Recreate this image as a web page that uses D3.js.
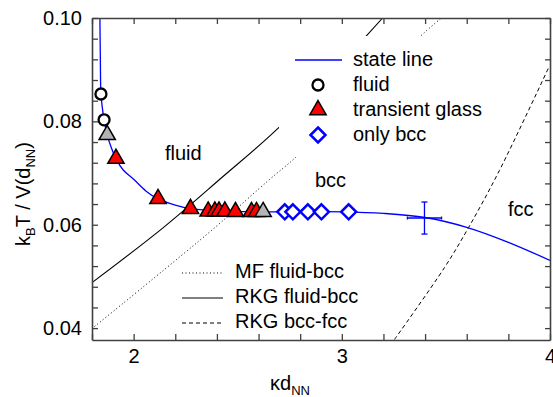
<!DOCTYPE html>
<html>
<head>
<meta charset="utf-8">
<script src="https://cdn.jsdelivr.net/npm/d3@7"></script>
<style>
body { margin: 0; background: #fff; }
text { font-family: "Liberation Sans", Arial, sans-serif; fill: #000; }
</style>
</head>
<body>
<script>
var width = 553, height = 397;

// state line (blue)
var stateK = [1.838, 1.840, 1.843, 1.850, 1.858, 1.873, 1.892, 1.915, 1.95, 2.0, 2.06, 2.117, 2.2, 2.273, 2.4, 2.6, 2.8, 3.0, 3.2, 3.4, 3.6, 3.8, 4.0];
var stateV = [0.100, 0.0925, 0.0853, 0.0825, 0.0803, 0.0774, 0.0750, 0.0728, 0.0706, 0.0688, 0.0665, 0.0650, 0.0638, 0.0631, 0.0627, 0.0625, 0.0625, 0.0625, 0.0622, 0.0614, 0.0595, 0.0566, 0.0531];

// measured points
var fluidK = [1.843, 1.858];
var fluidV = [0.0853, 0.0803];
var glassK = [1.915, 2.117, 2.273, 2.358, 2.39, 2.41, 2.438, 2.489, 2.566, 2.59];
var glassV = [0.0728, 0.0650, 0.0631, 0.0626, 0.0626, 0.0626, 0.0626, 0.0625, 0.0625, 0.0625];
var greyK = [1.873, 2.622];
var greyV = [0.0774, 0.0625];
var bccK = [2.726, 2.765, 2.837, 2.902, 3.033];
var bccV = [0.0625, 0.0625, 0.0625, 0.0625, 0.0625];

// error bar
var errK = 3.397, errV = 0.0613, errDK = 0.082, errDV = 0.0031;

// phase boundaries
var mfK = [1.8, 2.380, 2.654, 2.783, 3.397, 3.479];
var mfV = [0.0399, 0.0591, 0.0688, 0.0732, 0.0972, 0.100];
var rkgFbK = [1.8, 2.141, 2.414, 2.702, 3.119, 3.196];
var rkgFbV = [0.0488, 0.0594, 0.0688, 0.0790, 0.0966, 0.100];
var rkgBfK = [3.253, 3.493, 3.608, 3.757, 3.997];
var rkgBfV = [0.0378, 0.0517, 0.0594, 0.0705, 0.0907];

// ticks
var xTicks = d3.range(1.8, 4.001, 0.2);
var xLabels = [2, 3, 4];
var yTicks = d3.range(0.04, 0.1001, 0.004);
var yLabels = [0.04, 0.06, 0.08, 0.10];

var x = d3.scaleLinear().domain([1.8, 4]).range([92, 550]);
var y = d3.scaleLinear().domain([0.0377, 0.1]).range([340, 18]);

var svg = d3.select("body")
.append("svg")
.attr("width", width)
.attr("height", height);

svg.append("defs").append("clipPath")
	.attr("id", "plotClip")
	.append("rect")
		.attr("x", 92).attr("y", 18)
		.attr("width", 458).attr("height", 322);

function pts(ks, vs){
    return ks.map(function(k, i){ return [k, vs[i]]; });
}

var line = d3.line()
.x(function(d){ return x(d[0]); })
.y(function(d){ return y(d[1]); })
.curve(d3.curveCatmullRom.alpha(0.5));

var plot = svg.append("g").attr("clip-path", "url(#plotClip)");

plot.append("path").datum(pts(mfK, mfV))
.attr("d", line).attr("fill", "none")
.attr("stroke", "#000").attr("stroke-width", 1)
.attr("stroke-dasharray", "1,2.5");

plot.append("path").datum(pts(rkgFbK, rkgFbV))
.attr("d", line).attr("fill", "none")
.attr("stroke", "#000").attr("stroke-width", 1.1);

plot.append("path").datum(pts(rkgBfK, rkgBfV))
.attr("d", line).attr("fill", "none")
.attr("stroke", "#000").attr("stroke-width", 1)
.attr("stroke-dasharray", "4,3");

// legend background hides the boundaries
svg.append("rect")
.attr("x", 279).attr("y", 36).attr("width", 216).attr("height", 121)
.attr("fill", "#fff");

plot.append("path").datum(pts(stateK, stateV))
.attr("d", line).attr("fill", "none")
.attr("stroke", "#0000ff").attr("stroke-width", 1.3);

// error bar
var eb = svg.append("g").attr("stroke", "#0000ff").attr("stroke-width", 1.3);
eb.append("line")
.attr("x1", x(errK)).attr("x2", x(errK))
.attr("y1", y(errV - errDV)).attr("y2", y(errV + errDV));
eb.append("line")
.attr("x1", x(errK - errDK)).attr("x2", x(errK + errDK))
.attr("y1", y(errV)).attr("y2", y(errV));
[errV - errDV, errV + errDV].forEach(function(v){
    eb.append("line").attr("x1", x(errK) - 3).attr("x2", x(errK) + 3)
    .attr("y1", y(v)).attr("y2", y(v));
});
[errK - errDK, errK + errDK].forEach(function(k){
    eb.append("line").attr("x1", x(k)).attr("x2", x(k))
    .attr("y1", y(errV) - 1.5).attr("y2", y(errV) + 1.5);
});

var tri = d3.symbol().type(d3.symbolTriangle).size(115);
var diamond = "M0,-7.5L7.5,0L0,7.5L-7.5,0Z";

svg.selectAll(".fluidPt")
.data(pts(fluidK, fluidV))
.enter().append("circle")
.attr("class", "fluidPt")
.attr("cx", function(d){ return x(d[0]); })
.attr("cy", function(d){ return y(d[1]); })
.attr("r", 5.5)
.attr("fill", "#fff").attr("stroke", "#000").attr("stroke-width", 2.3);

svg.selectAll(".bccPt")
.data(pts(bccK, bccV))
.enter().append("path")
.attr("class", "bccPt")
.attr("transform", function(d){ return "translate(" + x(d[0]) + "," + y(d[1]) + ")"; })
.attr("d", diamond)
.attr("fill", "#fff").attr("stroke", "#0000ff").attr("stroke-width", 2.5);

svg.selectAll(".glassPt")
.data(pts(glassK, glassV))
.enter().append("path")
.attr("class", "glassPt")
.attr("transform", function(d){ return "translate(" + x(d[0]) + "," + y(d[1]) + ")"; })
.attr("d", tri)
.attr("fill", "#ff0000").attr("stroke", "#000").attr("stroke-width", 1.5);

svg.selectAll(".greyPt")
.data(pts(greyK, greyV))
.enter().append("path")
.attr("class", "greyPt")
.attr("transform", function(d){ return "translate(" + x(d[0]) + "," + y(d[1]) + ")"; })
.attr("d", tri)
.attr("fill", "#b4b4b4").attr("stroke", "#000").attr("stroke-width", 1.5);

// axes, ticks pointing inwards on all four sides
function styleAxis(g){
    g.select(".domain").attr("stroke", "#404040").attr("stroke-width", 1.6);
    g.selectAll(".tick line").attr("stroke", "#404040").attr("stroke-width", 1.3);
    g.selectAll("text").attr("font-size", 20).attr("fill", "#000")
    .attr("font-family", "'Liberation Sans', Arial, sans-serif");
}

function xFmt(d){ return xLabels.some(function(l){ return Math.abs(l - d) < 1e-6; }) ? d3.format("d")(d) : ""; }
function yFmt(d){ return yLabels.some(function(l){ return Math.abs(l - d) < 1e-6; }) ? d3.format(".2f")(d) : ""; }

svg.append("g").attr("transform", "translate(0,340)")
.call(d3.axisBottom(x).tickValues(xTicks).tickSizeInner(-6).tickSizeOuter(0).tickPadding(9).tickFormat(xFmt))
.call(styleAxis);
svg.append("g").attr("transform", "translate(0,18)")
.call(d3.axisTop(x).tickValues(xTicks).tickSizeInner(-6).tickSizeOuter(0).tickFormat(""))
.call(styleAxis);
svg.append("g").attr("transform", "translate(92,0)")
.call(d3.axisLeft(y).tickValues(yTicks).tickSizeInner(-6).tickSizeOuter(0).tickPadding(10).tickFormat(yFmt))
.call(styleAxis);
svg.append("g").attr("transform", "translate(550,0)")
.call(d3.axisRight(y).tickValues(yTicks).tickSizeInner(-5).tickSizeOuter(0).tickFormat(""))
.call(styleAxis);

// axis titles
var yt = svg.append("text")
.attr("transform", "translate(30,194) rotate(-90)")
.attr("text-anchor", "middle").attr("font-size", 20);
yt.append("tspan").text("k");
yt.append("tspan").attr("font-size", 13).attr("dy", 5).text("B");
yt.append("tspan").attr("dy", -5).text("T / V(d");
yt.append("tspan").attr("font-size", 13).attr("dy", 5).text("NN");
yt.append("tspan").attr("dy", -5).text(")");

var xt = svg.append("text")
.attr("x", 270).attr("y", 390)
.attr("font-size", 20);
xt.append("tspan").text("\u03bad");
xt.append("tspan").attr("font-size", 13).attr("dy", 5).text("NN");

// region labels
var regions = [["fluid", 165, 160], ["bcc", 315, 187], ["fcc", 508, 216]];
svg.selectAll(".region")
.data(regions)
.enter().append("text")
.attr("class", "region")
.attr("x", function(d){ return d[1]; })
.attr("y", function(d){ return d[2]; })
.attr("font-size", 20)
.text(function(d){ return d[0]; });

// upper legend
var legTop = ["state line", "fluid", "transient glass", "only bcc"];
var lg = svg.append("g");
legTop.forEach(function(t, i){
    var by = 66 + i * 25;
    lg.append("text").attr("x", 353).attr("y", by).attr("font-size", 20).text(t);
});
lg.append("line").attr("x1", 295).attr("x2", 342).attr("y1", 60).attr("y2", 60)
.attr("stroke", "#0000ff").attr("stroke-width", 1.3);
lg.append("circle").attr("cx", 318).attr("cy", 85).attr("r", 5.5)
.attr("fill", "#fff").attr("stroke", "#000").attr("stroke-width", 2.3);
lg.append("path").attr("transform", "translate(318,110)").attr("d", tri)
.attr("fill", "#ff0000").attr("stroke", "#000").attr("stroke-width", 1.5);
lg.append("path").attr("transform", "translate(318,135)").attr("d", diamond)
.attr("fill", "#fff").attr("stroke", "#0000ff").attr("stroke-width", 2.5);

// lower legend
var legBottom = ["MF fluid-bcc", "RKG fluid-bcc", "RKG bcc-fcc"];
var legDash = ["1,2.5", null, "4,3"];
legBottom.forEach(function(t, i){
    var by = 278 + i * 25;
    svg.append("text").attr("x", 235).attr("y", by).attr("font-size", 20).text(t);
    svg.append("line").attr("x1", 182).attr("x2", 223).attr("y1", by - 5).attr("y2", by - 5)
    .attr("stroke", "#000").attr("stroke-width", 1)
    .attr("stroke-dasharray", legDash[i]);
});
</script>
</body>
</html>
